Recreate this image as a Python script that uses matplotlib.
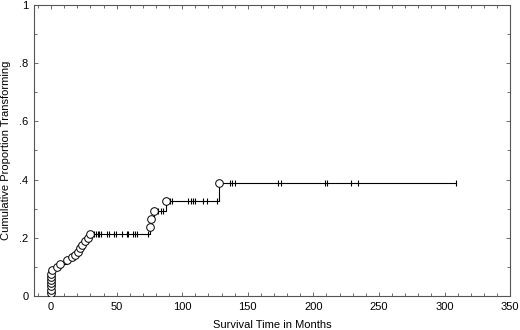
import numpy as np
import matplotlib
matplotlib.use("Agg")
import matplotlib.pyplot as plt
from matplotlib.ticker import MultipleLocator, FixedLocator

# event times (months) and cumulative proportion after each event
event_times = [0, 0, 0, 0, 0, 0, 0, 1.0, 4.3, 6.9, 12.0, 15.8, 18.3, 20.8, 22.1,
               23.4, 26.0, 28.0, 29.7, 75.5, 76.0, 78.6, 87.7, 128.4]
event_props = [0.011, 0.022, 0.033, 0.044, 0.055, 0.066, 0.077, 0.089, 0.100,
               0.109, 0.124, 0.133, 0.141, 0.152, 0.164, 0.175, 0.189, 0.198,
               0.213, 0.238, 0.264, 0.292, 0.326, 0.387]

# censored observations (months)
censor_times = [33.0, 34.3, 35.6, 36.8, 38.1, 42.5, 44.2, 48.3, 49.6, 53.9,
                57.7, 59.0, 62.8, 64.1, 65.4, 74.0, 81.9, 83.7, 85.7, 90.8,
                92.5, 104.7, 106.6, 108.6, 109.8, 116.2, 118.8, 126.7, 136.5,
                137.8, 140.4, 173.4, 175.2, 209.0, 210.3, 228.6, 233.7, 308.7]

x_ticks = [0, 50, 100, 150, 200, 250, 300, 350]
y_ticks = [0, 0.2, 0.4, 0.6, 0.8, 1.0]
y_tick_labels = ["0", ".2", ".4", ".6", ".8", "1"]

plt.rcParams["font.family"] = ["Liberation Sans", "DejaVu Sans"]
plt.rcParams["font.size"] = 8

fig = plt.figure(figsize=(5.2, 3.3), dpi=100)
ax = fig.add_axes([0.0654, 0.103, 0.9156, 0.882])

# step curve
last_t = max(censor_times)
xs = [0] + event_times + [last_t]
ys = [0] + event_props + [event_props[-1]]
ax.step(xs, ys, where="post", color="black", lw=0.8, zorder=2)

# censor marks on the curve
et = np.array(event_times)
ep = np.array(event_props)
cy = [ep[np.searchsorted(et, t, side="right") - 1] for t in censor_times]
ax.plot(censor_times, cy, ls="none", marker="|", ms=5, mew=0.8, color="black", zorder=3)

# event markers
ax.plot(event_times, event_props, ls="none", marker="o", ms=5.5, mfc="white",
        mec="black", mew=0.7, zorder=4)

ax.set_xlim(-13, 350)
ax.set_ylim(0, 1.0)
ax.xaxis.set_major_locator(FixedLocator(x_ticks))
ax.xaxis.set_minor_locator(MultipleLocator(10))
ax.yaxis.set_major_locator(FixedLocator(y_ticks))
ax.set_yticklabels(y_tick_labels)
ax.yaxis.set_minor_locator(MultipleLocator(0.1))
ax.tick_params(which="both", direction="in", top=True, right=True, color="#555555", width=0.6)
ax.tick_params(which="major", length=3, pad=4)
ax.tick_params(which="minor", length=2)
for s in ax.spines.values():
    s.set_color("#555555")
    s.set_linewidth(0.8)

ax.set_xlabel("Survival Time in Months", labelpad=6)
ax.set_ylabel("Cumulative Proportion Transforming", labelpad=6)

fig.savefig("out.png", dpi=100)
